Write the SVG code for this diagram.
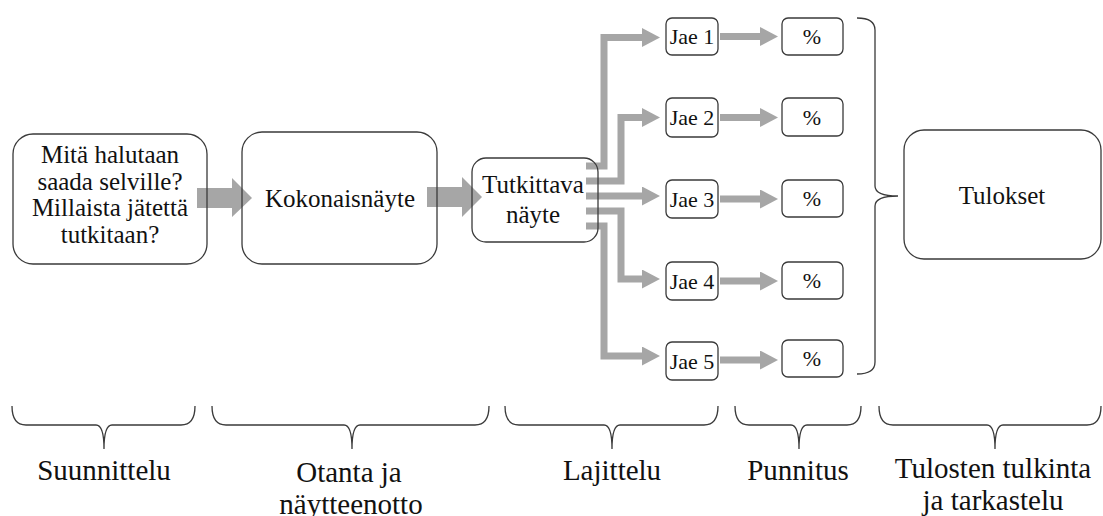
<svg xmlns="http://www.w3.org/2000/svg" width="1103" height="516" viewBox="0 0 1103 516">
  <style>
    .box { fill: none; stroke: #3a3a3a; stroke-width: 1.3; }
    .txt { font-family: "Liberation Serif", "Times New Roman", Times, Tinos, "Nimbus Roman", "Nimbus Roman No9 L", FreeSerif, "DejaVu Serif", "Noto Serif", Georgia, serif; fill: #111; text-anchor: middle; }
    .t25 { font-size: 25px; }
    .t22 { font-size: 22px; }
    .t29 { font-size: 29px; }
    .flow { fill: #a6a6a6; stroke: none; }
    .line { fill: none; stroke: #a6a6a6; stroke-width: 7; stroke-linejoin: miter; }
    .brace { fill: none; stroke: #3a3a3a; stroke-width: 1.3; }
  </style>
  <defs>
    <marker id="head" markerUnits="userSpaceOnUse" markerWidth="19" markerHeight="20" refX="0" refY="9.5" orient="auto">
      <path d="M0,0 L18,9.5 L0,19 z" fill="#a6a6a6"/>
    </marker>
  </defs>
  <rect width="1103" height="516" fill="#ffffff"/>

  <!-- connectors -->
  <g id="connectors">
    <polygon class="flow" points="197,188 232,188 232,178 252,198 232,217 232,208 197,208"/>
    <polygon class="flow" points="427,187 462,187 462,177 482,197 462,217 462,207 427,207"/>
    <path class="line" d="M586,166 H604 V37.5 H642" marker-end="url(#head)"/>
    <path class="line" d="M586,181 H621 V117.5 H642" marker-end="url(#head)"/>
    <path class="line" d="M586,196 H642" marker-end="url(#head)"/>
    <path class="line" d="M586,211 H621 V279 H642" marker-end="url(#head)"/>
    <path class="line" d="M586,226 H604 V356 H642" marker-end="url(#head)"/>
    <path class="line" d="M720,36.5 H760" marker-end="url(#head)"/>
    <path class="line" d="M720,117.5 H760" marker-end="url(#head)"/>
    <path class="line" d="M720,199 H760" marker-end="url(#head)"/>
    <path class="line" d="M720,281 H760" marker-end="url(#head)"/>
    <path class="line" d="M720,360 H760" marker-end="url(#head)"/>
  </g>

  <g id="suunnittelu-box">
    <rect class="box" x="13" y="134" width="194" height="130" rx="20"/>
    <text class="txt t25" x="110" y="163">Mitä halutaan</text>
    <text class="txt t25" x="110" y="190">saada selville?</text>
    <text class="txt t25" x="110" y="216">Millaista jätettä</text>
    <text class="txt t25" x="110" y="243">tutkitaan?</text>
  </g>

  <g id="kokonaisnayte">
    <rect class="box" x="242" y="132" width="195" height="132" rx="20"/>
    <text class="txt t25" x="340" y="207">Kokonaisnäyte</text>
  </g>

  <g id="tutkittava-nayte">
    <rect class="box" x="472" y="158" width="126" height="84" rx="14"/>
    <text class="txt t25" x="533" y="193">Tutkittava</text>
    <text class="txt t25" x="533" y="223">näyte</text>
  </g>

  <g id="jae1"><rect class="box" x="666" y="18" width="52" height="37" rx="6"/><text class="txt t22" x="692" y="44">Jae 1</text></g>
  <g id="jae2"><rect class="box" x="666" y="98" width="52" height="39" rx="6"/><text class="txt t22" x="692" y="125">Jae 2</text></g>
  <g id="jae3"><rect class="box" x="666" y="180" width="52" height="38" rx="6"/><text class="txt t22" x="692" y="207">Jae 3</text></g>
  <g id="jae4"><rect class="box" x="666" y="262" width="52" height="38" rx="6"/><text class="txt t22" x="692" y="289">Jae 4</text></g>
  <g id="jae5"><rect class="box" x="666" y="342" width="52" height="38" rx="6"/><text class="txt t22" x="692" y="369">Jae 5</text></g>

  <g id="pros1"><rect class="box" x="782" y="18" width="61" height="37" rx="6"/><text class="txt t22" x="812" y="44">%</text></g>
  <g id="pros2"><rect class="box" x="782" y="98" width="61" height="38" rx="6"/><text class="txt t22" x="812" y="125">%</text></g>
  <g id="pros3"><rect class="box" x="782" y="180" width="61" height="37" rx="6"/><text class="txt t22" x="812" y="206">%</text></g>
  <g id="pros4"><rect class="box" x="782" y="262" width="61" height="37" rx="6"/><text class="txt t22" x="812" y="288">%</text></g>
  <g id="pros5"><rect class="box" x="782" y="340" width="61" height="37" rx="6"/><text class="txt t22" x="812" y="366">%</text></g>

  <g id="tulokset-brace">
    <path class="brace" d="M857,18 Q875,18 875,30 V186 Q875,196 898,196 Q875,196 875,206 V362 Q875,374 857,374"/>
  </g>

  <g id="tulokset">
    <rect class="box" x="904" y="130" width="197" height="129" rx="20"/>
    <text class="txt t25" x="1002" y="204">Tulokset</text>
  </g>

  <!-- phase braces and labels -->
  <g id="vaihe-suunnittelu">
    <path class="brace" d="M12,406 Q12,425 26,425 H96 Q104,425 104,449 Q104,425 112,425 H181 Q195,425 195,406"/>
    <text class="txt t29" x="104" y="480">Suunnittelu</text>
  </g>
  <g id="vaihe-otanta">
    <path class="brace" d="M212,406 Q212,425 226,425 H344 Q352,425 352,449 Q352,425 360,425 H475 Q489,425 489,406"/>
    <text class="txt t29" x="349" y="482">Otanta ja</text>
    <text class="txt t29" x="351" y="514">näytteenotto</text>
  </g>
  <g id="vaihe-lajittelu">
    <path class="brace" d="M505,406 Q505,425 519,425 H604 Q612,425 612,449 Q612,425 620,425 H704 Q718,425 718,406"/>
    <text class="txt t29" x="612" y="480">Lajittelu</text>
  </g>
  <g id="vaihe-punnitus">
    <path class="brace" d="M735,406 Q735,425 749,425 H791 Q799,425 799,449 Q799,425 807,425 H847 Q861,425 861,406"/>
    <text class="txt t29" x="798" y="480">Punnitus</text>
  </g>
  <g id="vaihe-tulkinta">
    <path class="brace" d="M879,406 Q879,425 893,425 H987 Q995,425 995,449 Q995,425 1003,425 H1087 Q1101,425 1101,406"/>
    <text class="txt t29" x="993" y="478">Tulosten tulkinta</text>
    <text class="txt t29" x="993" y="510">ja tarkastelu</text>
  </g>
</svg>
